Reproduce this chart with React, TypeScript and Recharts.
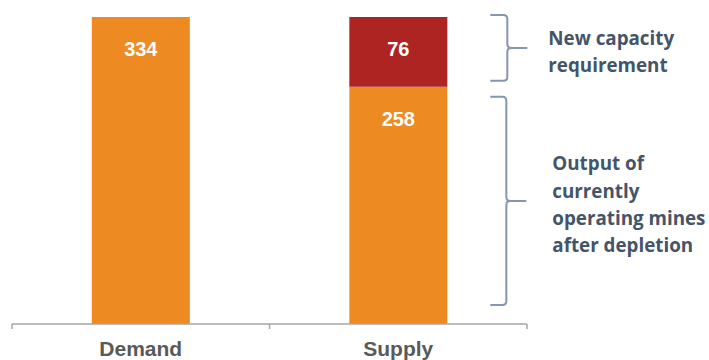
import React from "react"
import { BarChart, Bar, XAxis, YAxis, LabelList } from "recharts"

const categories = ["Demand", "Supply"]
const currentOutput = [334, 258]
const newCapacity = [null, 76]
// category boundaries at 0, 0.5, 1 and category centres in between
const axisTicks = [0, 0.25, 0.5, 0.75, 1]
const newCapacityNote = ["New capacity", "requirement"]
const currentOutputNote = ["Output of", "currently", "operating mines", "after depletion"]
const annotatedCategory = "Supply"

const data = categories.map((name, i) => ({
  name,
  current: currentOutput[i],
  added: newCapacity[i],
}))

const ORANGE = "#EE8A22"
const RED = "#AD2422"
const NOTE = "#44546A"
const BRACE = "#8596AE"

function FrameTick(props: any) {
  const { x, y, payload } = props
  const v = payload.value * categories.length
  if (Math.abs(v - Math.round(v)) < 1e-6) {
    return <line x1={x} x2={x} y1={y - 8} y2={y - 3} stroke="#A6A6A6" strokeWidth={1.5} />
  }
  return (
    <text
      x={x}
      y={y + 24}
      textAnchor="middle"
      fill="#595959"
      fontFamily="'Liberation Sans', Arial, sans-serif"
      fontWeight="bold"
      fontSize={21}
    >
      {categories[Math.floor(v)]}
    </text>
  )
}

// curly bracket + note text, drawn next to a stacked segment
function makeBrace(lines: string[], inTop: number, inBottom: number, left: number, spine: number, textX: number) {
  return function Brace(props: any) {
    const vb = props.viewBox || props
    const { x, y, width, height } = vb
    if (props.value !== annotatedCategory || !height) return null
    const right = x + width
    const L = right + left
    const S = right + spine
    const top = y + inTop
    const bottom = y + height - inBottom
    const mid = (top + bottom) / 2
    const r = 4
    const d =
      `M${L},${top} H${S - r} Q${S},${top} ${S},${top + r} V${mid - r} Q${S},${mid} ${S + r},${mid} H${S + 20} ` +
      `M${S + r},${mid} Q${S},${mid} ${S},${mid + r} V${bottom - r} Q${S},${bottom} ${S - r},${bottom} H${L}`
    const lh = 27.3
    const start = mid - ((lines.length - 1) * lh) / 2
    return (
      <g>
        <path d={d} fill="none" stroke={BRACE} strokeWidth={2} />
        {lines.map((t, i) => (
          <text
            key={t}
            x={right + textX}
            y={start + i * lh + 10.5}
            fill={NOTE}
            fontFamily="'Open Sans', sans-serif"
            fontWeight="bold"
            fontSize={18.8}
          >
            {t}
          </text>
        ))}
      </g>
    )
  }
}

const AddedBrace = makeBrace(newCapacityNote, -2, 6, 43, 60, 101)
const CurrentBrace = makeBrace(currentOutputNote, 10, 19, 43, 59, 105)

const valueLabel = {
  position: "insideTop" as const,
  offset: 25,
  fill: "#FFFFFF",
  fontFamily: "'Liberation Sans', Arial, sans-serif",
  fontWeight: "bold",
  fontSize: 20,
}

export default function App() {
  return (
    <div style={{ position: "absolute", left: 0, top: 0, width: 709, height: 360, background: "#fff" }}>
      <BarChart
        width={709}
        height={360}
        data={data}
        margin={{ top: 17, right: 182, bottom: 0, left: 12 }}
        barCategoryGap="31%"
      >
        <XAxis xAxisId="cat" dataKey="name" hide height={0} />
        <XAxis
          xAxisId="frame"
          type="number"
          domain={[0, 1]}
          allowDataOverflow
          ticks={axisTicks}
          interval={0}
          axisLine={{ stroke: "#A6A6A6", strokeWidth: 1.5 }}
          tickLine={false}
          tick={<FrameTick />}
          height={36}
        />
        <YAxis hide domain={[0, "dataMax"]} />
        <Bar dataKey="current" stackId="s" xAxisId="cat" fill={ORANGE} isAnimationActive={false}>
          <LabelList dataKey="current" {...valueLabel} />
          <LabelList dataKey="name" content={<CurrentBrace />} />
        </Bar>
        <Bar dataKey="added" stackId="s" xAxisId="cat" fill={RED} isAnimationActive={false}>
          <LabelList dataKey="added" {...valueLabel} />
          <LabelList dataKey="name" content={<AddedBrace />} />
        </Bar>
      </BarChart>
    </div>
  )
}
